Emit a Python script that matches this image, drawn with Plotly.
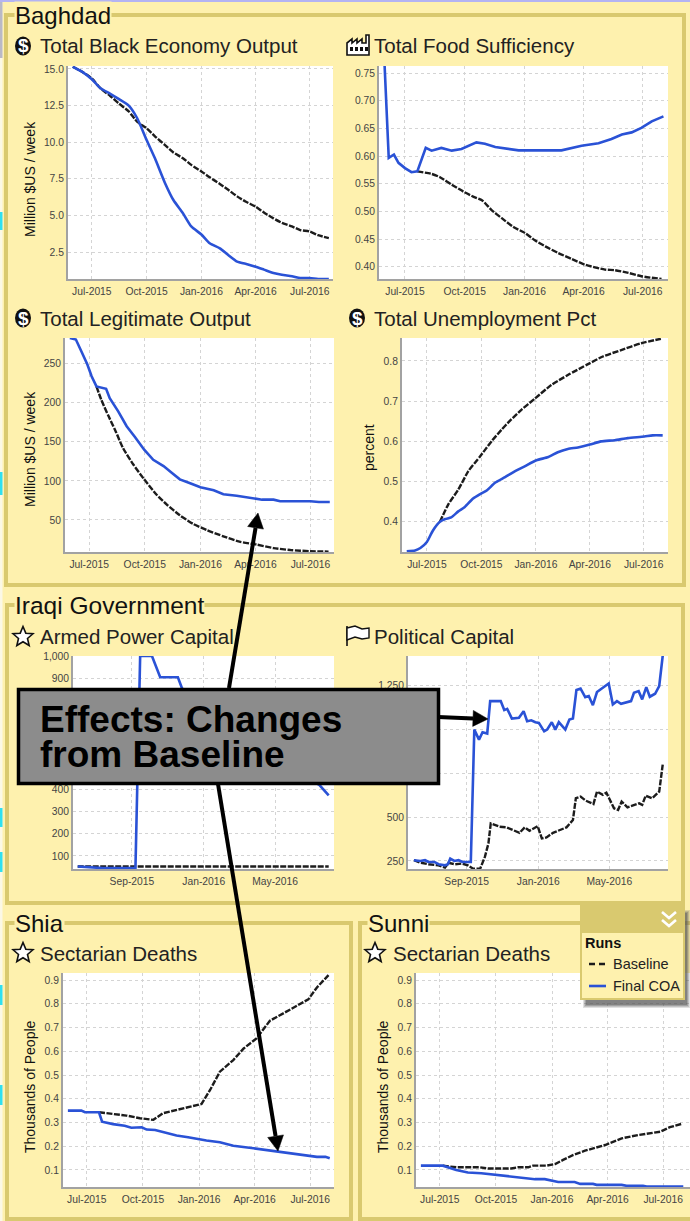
import math
import pandas as pd
import plotly.graph_objects as go

# ---------- data: x values are days counted from 1 Jul 2015 ----------
START = pd.Timestamp("2015-07-01")
DAYS = [-32,-16,0,14,31,45,62,76,92,106,123,137,153,167,184,198,215,229,244,258,275,289,305,319,336,350,366,380,398]

black_econ_base = [15.15,14.8,14.35,13.7,13.15,12.65,12.1,11.4,10.95,10.4,9.8,9.3,8.9,8.45,8.0,7.6,7.15,6.75,6.3,5.95,5.6,5.2,4.8,4.5,4.25,4.0,3.9,3.65,3.45]
black_econ_coa = [15.15,14.8,14.3,13.7,13.3,12.95,12.5,11.65,10.15,8.9,7.2,6.05,5.15,4.25,3.7,3.1,2.75,2.3,1.85,1.7,1.5,1.3,1.07,0.95,0.85,0.73,0.72,0.66,0.65]

food_coa_days = [-32,-25,-17,-10,0,10,19,32,41,56,72,87,110,123,139,159,175,241,257,272,298,318,334,349,364,380,398]
food_coa = [0.78,0.597,0.603,0.588,0.5785,0.571,0.5725,0.615,0.610,0.615,0.610,0.613,0.625,0.6225,0.6165,0.6135,0.6105,0.6105,0.6145,0.619,0.6235,0.631,0.639,0.643,0.651,0.663,0.672]
food_base_days = [19,41,54,72,90,105,119,133,149,167,185,200,216,236,257,277,308,323,344,364,395]
food_base = [0.5725,0.568,0.562,0.5485,0.536,0.527,0.52,0.503,0.488,0.472,0.461,0.448,0.437,0.425,0.414,0.404,0.395,0.394,0.389,0.383,0.378]

legit_coa_days = [-32,-22,-13,-3,4,12,28,34,48,62,76,91,106,123,137,150,167,184,206,222,244,272,286,305,316,366,380,398]
legit_coa = [283,281,266,249,234,221,218,206,189,170,156,140,127,119,110,102,97,92,88,83,81,78,76,76,74,74,73,73]
legit_base_days = [12,20,32,43,56,73,91,112,128,150,172,195,222,250,277,305,333,366,396]
legit_base = [221,204,183,165,142,121,102,82,70,56,45,37,29,22,18.5,14,11.5,10,9.5]

unemp_coa_days = [-34,-20,-11,0,10,22,31,41,53,64,78,90,101,115,132,149,165,185,205,221,238,255,275,294,317,339,367,381,398]
unemp_coa = [0.327,0.329,0.335,0.350,0.378,0.400,0.407,0.411,0.426,0.437,0.458,0.469,0.478,0.497,0.511,0.526,0.538,0.553,0.561,0.573,0.581,0.585,0.592,0.600,0.603,0.608,0.612,0.615,0.615]
unemp_base_days = [22,36,53,70,90,109,126,140,160,182,210,238,272,297,328,362,395]
unemp_base = [0.400,0.443,0.480,0.526,0.563,0.600,0.629,0.651,0.679,0.706,0.740,0.765,0.792,0.811,0.827,0.844,0.855]

armed_coa_days = [-30,13,68,76,96,110,140,147,205,290,380,396]
armed_coa = [52,45,45,1000,1000,904,904,855,697,547,420,372]
armed_base_days = [-30,396]
armed_base = [52,52]

pol_coa_days = [-28,-17,-9,-3,7,14,25,30,34,41,48,55,69,75,83,89,97,102,120,126,131,139,151,159,165,172,179,185,194,199,207,213,219,230,237,243,249,256,264,270,277,284,304,311,318,325,342,347,355,361,368,374,383,390,396]
pol_coa = [254,250,254,244,244,231,225,231,263,250,254,244,244,998,941,983,975,1160,1160,1109,1116,1061,1065,1103,1046,1051,1040,1036,988,998,1040,998,1040,998,1055,1061,1223,1231,1183,1189,1137,1212,1261,1141,1160,1145,1160,1208,1217,1170,1240,1185,1202,1246,1418]
pol_base_days = [-28,-17,-3,14,25,31,42,54,64,73,85,93,99,103,118,130,152,161,169,183,190,198,209,232,243,248,256,265,278,284,294,300,313,320,326,336,356,361,367,378,390,394,396]
pol_base = [254,240,231,225,212,239,231,235,225,206,206,273,349,464,445,441,410,441,422,448,378,384,410,441,483,607,616,593,574,645,626,639,550,540,588,555,578,569,622,607,645,769,798]

shia_coa_days = [-31,-9,-3,20,25,43,62,73,90,98,112,131,147,166,196,218,240,273,295,317,339,366,377,391,398]
shia_coa = [0.35,0.35,0.343,0.343,0.303,0.293,0.286,0.278,0.280,0.270,0.268,0.254,0.245,0.238,0.224,0.217,0.202,0.191,0.184,0.177,0.167,0.160,0.155,0.155,0.149]
shia_base_days = [20,43,65,87,109,125,147,169,188,202,218,240,257,278,300,322,344,363,377,396]
shia_base = [0.343,0.336,0.329,0.318,0.311,0.339,0.353,0.367,0.378,0.437,0.514,0.563,0.612,0.654,0.729,0.760,0.791,0.819,0.869,0.921]

sunni_coa_days = [-31,5,27,46,68,90,112,134,156,172,194,221,230,251,257,298,306,333,339,399]
sunni_coa = [0.118,0.118,0.1,0.089,0.086,0.079,0.072,0.066,0.061,0.061,0.049,0.049,0.041,0.041,0.037,0.037,0.033,0.033,0.03,0.03]
sunni_base_days = [5,27,66,79,117,128,145,153,175,189,202,219,238,271,298,325,361,377,396]
sunni_base = [0.118,0.111,0.111,0.106,0.106,0.111,0.111,0.118,0.118,0.125,0.142,0.163,0.181,0.205,0.233,0.247,0.261,0.28,0.294]

quarter_ticks = ["2015-07-01", "2015-10-01", "2016-01-01", "2016-04-01", "2016-07-01"]
four_month_ticks = ["2015-09-01", "2016-01-01", "2016-05-01"]
ticks_black = [2.5, 5, 7.5, 10, 12.5, 15]
ticks_black_text = ["2.5", "5.0", "7.5", "10.0", "12.5", "15.0"]
ticks_food = [0.40, 0.45, 0.50, 0.55, 0.60, 0.65, 0.70, 0.75]
ticks_food_text = ["0.40", "0.45", "0.50", "0.55", "0.60", "0.65", "0.70", "0.75"]
ticks_legit = [50, 100, 150, 200, 250]
ticks_unemp = [0.4, 0.5, 0.6, 0.7, 0.8]
ticks_armed = [100, 200, 300, 400, 500, 600, 700, 800, 900, 1000]
ticks_armed_text = ["100", "200", "300", "400", "500", "600", "700", "800", "900", "1,000"]
ticks_pol = [250, 500, 750, 1000, 1250]
ticks_pol_text = ["250", "500", "750", "1,000", "1,250"]
ticks_deaths = [0.1, 0.2, 0.3, 0.4, 0.5, 0.6, 0.7, 0.8, 0.9]

# ---------- style ----------
W, H = 690, 1221
CREAM = "#FEF1AE"
FRAME = "#D9C96F"
BLUE = "#2A52D6"
DARK = "#1C1C1C"
FONT = "Liberation Sans, Arial, sans-serif"

def X(px): return px / W
def Y(px): return 1 - px / H
def to_dates(days): return [START + pd.Timedelta(days=float(d)) for d in days]

panels = [
    dict(box=(68,333,66,279), yr=(0.66,15.2), xticks=quarter_ticks, yt=ticks_black, ytt=ticks_black_text,
         base=(DAYS,black_econ_base), coa=(DAYS,black_econ_coa), xr=(-40,405), smooth=(True,True)),
    dict(box=(379,668,66,279), yr=(0.378,0.763), xticks=quarter_ticks, yt=ticks_food, ytt=ticks_food_text,
         base=(food_base_days,food_base), coa=(food_coa_days,food_coa), xr=(-40,405), smooth=(True,False)),
    dict(box=(65,334,338,552), yr=(9,283), xticks=quarter_ticks, yt=ticks_legit, ytt=[str(v) for v in ticks_legit],
         base=(legit_base_days,legit_base), coa=(legit_coa_days,legit_coa), xr=(-40,405), smooth=(True,False)),
    dict(box=(402,668,338,552), yr=(0.325,0.857), xticks=quarter_ticks, yt=ticks_unemp, ytt=[str(v) for v in ticks_unemp],
         base=(unemp_base_days,unemp_base), coa=(unemp_coa_days,unemp_coa), xr=(-42,407), smooth=(True,True)),
    dict(box=(73,334,656,869), yr=(41,1000), xticks=four_month_ticks, yt=ticks_armed, ytt=ticks_armed_text,
         base=(armed_base_days,armed_base), coa=(armed_coa_days,armed_coa), xr=(-38,405), smooth=(False,False)),
    dict(box=(408,668,656,869), yr=(204,1417), xticks=four_month_ticks, yt=ticks_pol, ytt=ticks_pol_text,
         base=(pol_base_days,pol_base), coa=(pol_coa_days,pol_coa), xr=(-38,405), smooth=(False,False)),
    dict(box=(63,334,973,1187), yr=(0.028,0.93), xticks=quarter_ticks, yt=ticks_deaths, ytt=[str(v) for v in ticks_deaths],
         base=(shia_base_days,shia_base), coa=(shia_coa_days,shia_coa), xr=(-39,405), smooth=(False,False)),
    dict(box=(416,690,973,1187), yr=(0.028,0.93), xticks=quarter_ticks, yt=ticks_deaths, ytt=[str(v) for v in ticks_deaths],
         base=(sunni_base_days,sunni_base), coa=(sunni_coa_days,sunni_coa), xr=(-39,410), smooth=(False,False)),
]

fig = go.Figure()
tick_font = dict(family=FONT, size=10.3, color="#444444")
for i, p in enumerate(panels, start=1):
    x0, x1, y0, y1 = p["box"]
    suffix = "" if i == 1 else str(i)
    fig.update_layout({
        "xaxis" + suffix: dict(
            domain=[X(x0), X(x1)], anchor="y" + suffix, type="date", automargin=False,
            range=to_dates(p["xr"]), tickvals=p["xticks"], tickformat="%b-%Y", ticks="",
            tickfont=tick_font, showgrid=True, gridcolor="#D4D4D4", griddash="dot", gridwidth=1,
            showline=True, linecolor="#A2A2A2", linewidth=2, zeroline=False, ticklabelstandoff=2),
        "yaxis" + suffix: dict(
            domain=[Y(y1), Y(y0)], anchor="x" + suffix, range=list(p["yr"]), automargin=False,
            tickvals=p["yt"], ticktext=p["ytt"], ticks="", tickfont=tick_font,
            showgrid=True, gridcolor="#D4D4D4", griddash="dot", gridwidth=1,
            showline=True, linecolor="#A2A2A2", linewidth=2, zeroline=False),
    })
    fig.add_trace(go.Scatter(x=to_dates(p["base"][0]), y=p["base"][1], mode="lines", name="Baseline",
                             showlegend=False, xaxis="x"+suffix, yaxis="y"+suffix,
                             line=dict(color=DARK, width=2.4, dash="6px,1.5px",
                                       shape="spline" if p["smooth"][0] else "linear", smoothing=0.6)))
    fig.add_trace(go.Scatter(x=to_dates(p["coa"][0]), y=p["coa"][1], mode="lines", name="Final COA",
                             showlegend=False, xaxis="x"+suffix, yaxis="y"+suffix,
                             line=dict(color=BLUE, width=2.6,
                                       shape="spline" if p["smooth"][1] else "linear", smoothing=0.6)))

shapes, notes = [], []

def rect(x0, y0, x1, y1, fill=None, line=None, lw=0, layer="above", opacity=None):
    s = dict(type="rect", xref="paper", yref="paper", x0=X(x0), x1=X(x1), y0=Y(y0), y1=Y(y1),
             layer=layer, fillcolor=fill or "rgba(0,0,0,0)", line=dict(color=line or "rgba(0,0,0,0)", width=lw))
    if opacity is not None: s["opacity"] = opacity
    shapes.append(s)

def poly(points, fill="#000", line="#000", lw=1, close=True):
    d = "M" + " L".join(f"{X(a):.5f},{Y(b):.5f}" for a, b in points) + (" Z" if close else "")
    shapes.append(dict(type="path", xref="paper", yref="paper", path=d, layer="above",
                       fillcolor=fill if close else "rgba(0,0,0,0)", line=dict(color=line, width=lw)))

def text(x, y, s, size, color="#222222", bold=False, bg=None, angle=0, xa="left", font=FONT):
    a = dict(xref="paper", yref="paper", x=X(x), y=Y(y), text=f"<b>{s}</b>" if bold else s, showarrow=False,
             xanchor=xa, yanchor="middle", font=dict(family=font, size=size, color=color), borderpad=0, textangle=angle)
    if bg: a["bgcolor"] = bg
    notes.append(a)

# left page edge pieces behind the panels
rect(0, 0, 2.5, H, fill="#FBF8E6", layer="below")
rect(0, 0, 2.5, 58, fill="#B9B9C6", layer="below")
rect(0, 0, W, 2, fill="#B4B4F2", layer="below")
for a, b in [(212,230),(472,495),(808,827),(852,872),(985,1005),(1085,1105)]:
    rect(0, a, 2.5, b, fill="#2FE0F0", layer="below")

# section frames
for x0, y0, x1, y1 in [(6,15,684,585),(7,605,683,903),(7,923,351,1219),(360,923,700,1219)]:
    rect(x0, y0, x1, y1, line=FRAME, lw=4, layer="below")

# section headings
text(14, 15, "Baghdad", 24, bg=CREAM, color="#111111")
text(14, 605, "Iraqi Government", 24.5, bg=CREAM, color="#111111")
text(14, 923, "Shia", 24, bg=CREAM, color="#111111")
text(367, 923, "Sunni", 24, bg=CREAM, color="#111111")

# panel headings
for x, y, s in [(39,46,"Total Black Economy Output"),(373,46,"Total Food Sufficiency"),
                (39,318,"Total Legitimate Output"),(373,318,"Total Unemployment Pct"),
                (39,636,"Armed Power Capital"),(373,636,"Political Capital"),
                (39,953,"Sectarian Deaths"),(392,953,"Sectarian Deaths")]:
    text(x, y, s, 20.5)

# y-axis titles
for x, y, s in [(30,179,"Million $US / week"),(30,449,"Million $US / week"),(369,448,"percent"),
                (30,1087,"Thousands of People"),(383,1087,"Thousands of People")]:
    text(x, y, s, 14, color="#111111", angle=-90, xa="center")

# icons
for cx, cy in [(23,46),(23,318),(357,318)]:
    shapes.append(dict(type="circle", xref="paper", yref="paper", x0=X(cx-8), x1=X(cx+8), y0=Y(cy+9.5), y1=Y(cy-9.5),
                       fillcolor="#111111", line=dict(color="#111111", width=0), layer="below"))
    text(cx, cy, "$", 19, color="#FFFFFF", bold=True, xa="center")

def star(cx, cy, r=10.5):
    pts = []
    for k in range(10):
        rad = r if k % 2 == 0 else r * 0.45
        ang = -math.pi / 2 + k * math.pi / 5
        pts.append((cx + rad * math.cos(ang), cy + rad * math.sin(ang)))
    poly(pts, fill="#FFFFFF", line="#111111", lw=1.6)
for c in [(23,637),(23,953),(375,953)]:
    star(*c)

# factory icon
poly([(347,55),(347,43),(352,39),(352,43),(357,39),(357,43),(362,39),(362,43),(366,43),(366,35),(369,35),(369,55)],
     fill="#FFFFFF", line="#111111", lw=1.6)
for wx in (350, 355, 360, 365):
    rect(wx, 47, wx+3, 51, fill="#111111")
# flag icon
poly([(347,646),(347,626)], line="#111111", lw=1.6, close=False)
poly([(347,628),(355,626),(362,629),(369,628),(369,638),(362,639),(355,637),(347,640)],
     fill="#FFFFFF", line="#111111", lw=1.4)

# legend panel
for i, op in enumerate((0.18, 0.22, 0.3, 0.4)):
    rect(583+i, 910+i, 690-i, 1008-i, fill="#555555", opacity=op)
rect(580, 905, 685, 1000, fill=FRAME)
rect(582, 933, 683, 998, fill=CREAM)
for off in (0, 8):
    poly([(662,912+off),(669,918+off),(676,912+off)], line="#FFFFFF", lw=2.6, close=False)
text(584, 943, "Runs", 14.5, color="#111111", bold=True)
text(612, 964, "Baseline", 14.5, color="#222222")
text(612, 986, "Final COA", 14.5, color="#222222")
shapes.append(dict(type="line", xref="paper", yref="paper", x0=X(589), x1=X(606), y0=Y(964), y1=Y(964), layer="above",
                   line=dict(color=DARK, width=2.4, dash="6px,4px")))
shapes.append(dict(type="line", xref="paper", yref="paper", x0=X(589), x1=X(606), y0=Y(986), y1=Y(986), layer="above",
                   line=dict(color=BLUE, width=2.6)))

# call-out box and arrows
def arrow(x0, y0, x1, y1, head=15, half=8):
    L = math.hypot(x1-x0, y1-y0)
    ux, uy = (x1-x0)/L, (y1-y0)/L
    bx, by = x1-ux*head, y1-uy*head
    shapes.append(dict(type="line", xref="paper", yref="paper", x0=X(x0), y0=Y(y0), x1=X(bx), y1=Y(by),
                       layer="above", line=dict(color="#000000", width=4)))
    poly([(x1,y1),(bx-uy*half,by+ux*half),(bx+uy*half,by-ux*half)], fill="#000000", line="#000000", lw=0.5)

arrow(229, 688, 258, 513)
arrow(438, 717, 488, 719)
arrow(218, 784, 278, 1151)
rect(18.5, 689.5, 438.5, 783.5, fill="#8C8C8C", line="#000000", lw=3.5)
text(39, 719, "Effects: Changes", 37, color="#000000", bold=True)
text(39, 754, "from Baseline", 37, color="#000000", bold=True)

fig.update_layout(width=W, height=H, margin=dict(l=0, r=0, t=0, b=0), autosize=False,
                  paper_bgcolor=CREAM, plot_bgcolor="#FFFFFF", showlegend=False,
                  font=dict(family=FONT), shapes=shapes, annotations=notes)

fig.write_html("out.html", config=dict(displayModeBar=False),
               post_script="var gd=document.getElementById('{plot_id}');document.body.style.margin='0';document.body.style.overflow='hidden';gd.style.position='fixed';gd.style.top='0';gd.style.left='0';")
